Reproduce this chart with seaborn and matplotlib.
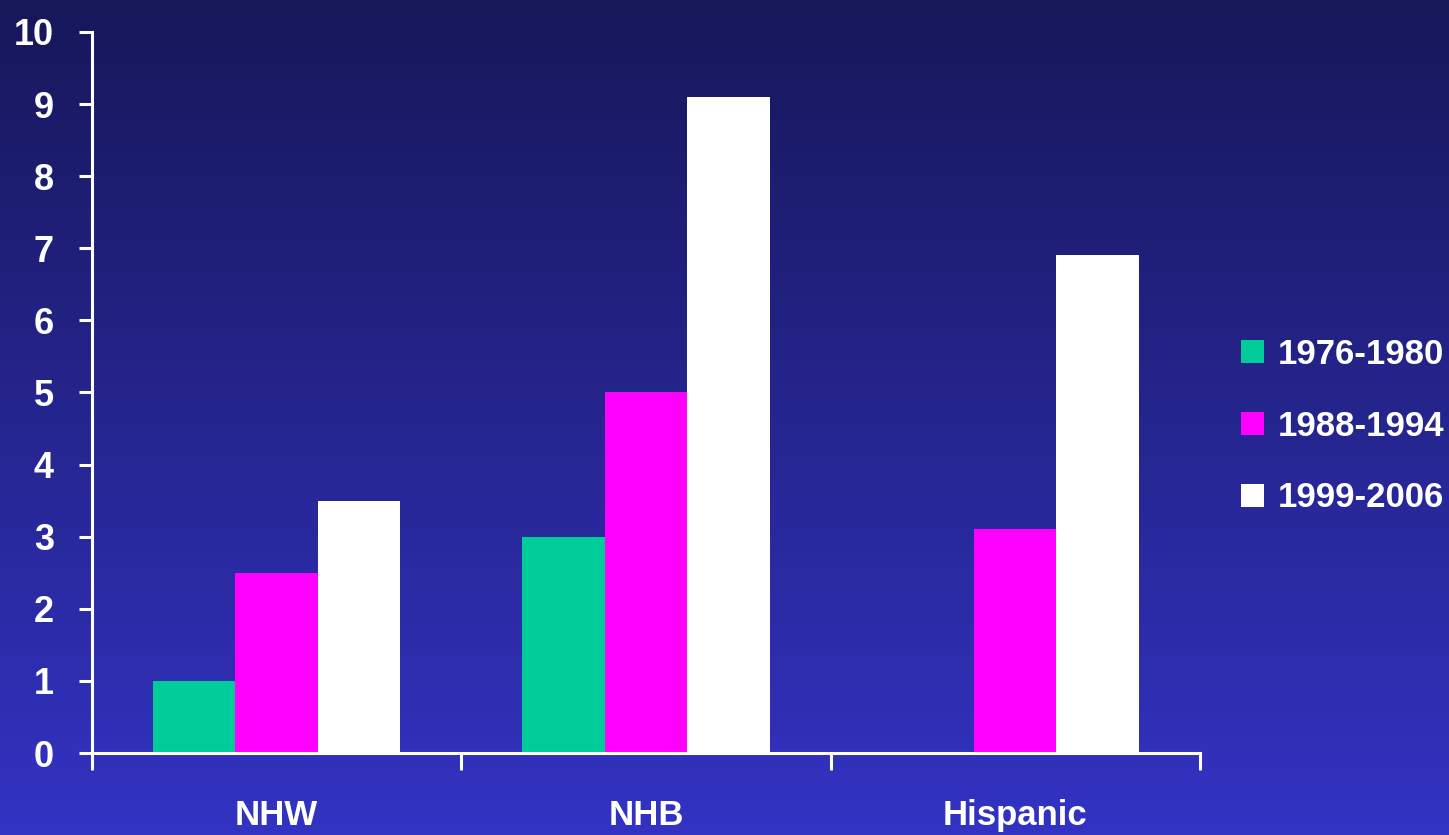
import matplotlib
matplotlib.use("Agg")
import matplotlib.pyplot as plt
import seaborn as sns
import pandas as pd
import numpy as np

sns.set_style("white")
plt.rcParams['font.family'] = ['Liberation Sans', 'DejaVu Sans']

groups = ['NHW', 'NHB', 'Hispanic']
periods = ['1976-1980', '1988-1994', '1999-2006']
v_1976 = [1.0, 3.0, np.nan]
v_1988 = [2.5, 5.0, 3.1]
v_1999 = [3.5, 9.1, 6.9]
colors = ['#00CC99', '#FF00FF', '#FFFFFF']

df = pd.DataFrame({
    'Group': groups * 3,
    'Period': [p for p in periods for _ in groups],
    'Value': v_1976 + v_1988 + v_1999,
})

fig = plt.figure(figsize=(14.49, 8.35), dpi=100)

# gradient background, dark navy at top to blue at bottom
bg = fig.add_axes([0, 0, 1, 1], zorder=0)
grad = np.linspace(0, 1, 256).reshape(-1, 1)
top = np.array([23, 23, 90]) / 255
bot = np.array([51, 51, 196]) / 255
img = top + (bot - top) * grad[:, :, None]
bg.imshow(img, aspect='auto', extent=[0, 1, 0, 1])
bg.axis('off')

ax = fig.add_axes([0.0635, 0.0982, 0.7645, 0.8635], zorder=1)
ax.patch.set_alpha(0)
sns.barplot(data=df, x='Group', y='Value', hue='Period', order=groups,
            hue_order=periods, palette=colors, saturation=1, width=0.67,
            linewidth=0, ax=ax)

ax.set_ylim(0, 10)
ax.set_xlim(-0.5, 2.5)
ax.set_xlabel('')
ax.set_ylabel('')
ax.set_yticks(range(0, 11))
for s in ['top', 'right']:
    ax.spines[s].set_visible(False)
for s in ['left', 'bottom']:
    ax.spines[s].set_color('white')
    ax.spines[s].set_linewidth(2.2)

ax.tick_params(axis='y', left=True, colors='white', length=9.5, width=2.2,
               pad=18, labelsize=26)
ax.tick_params(axis='x', which='major', bottom=True, length=0, pad=33,
               labelsize=25, colors='white')
ax.set_xticks([-0.5, 0.5, 1.5, 2.5], minor=True)
ax.tick_params(axis='x', which='minor', bottom=True, length=12, width=2.2,
               colors='white', direction='out')
for lbl in ax.get_xticklabels() + ax.get_yticklabels():
    lbl.set_fontweight('bold')

ax.legend(loc='center left', bbox_to_anchor=(1241 / 1449, 1 - 426 / 835),
          bbox_transform=fig.transFigure, frameon=False,
          prop={'size': 25, 'weight': 'bold'}, labelcolor='white',
          handlelength=0.66, handleheight=0.66, handletextpad=0.4,
          labelspacing=1.12, borderaxespad=0, borderpad=0)

fig.savefig('out.png', dpi=100)
